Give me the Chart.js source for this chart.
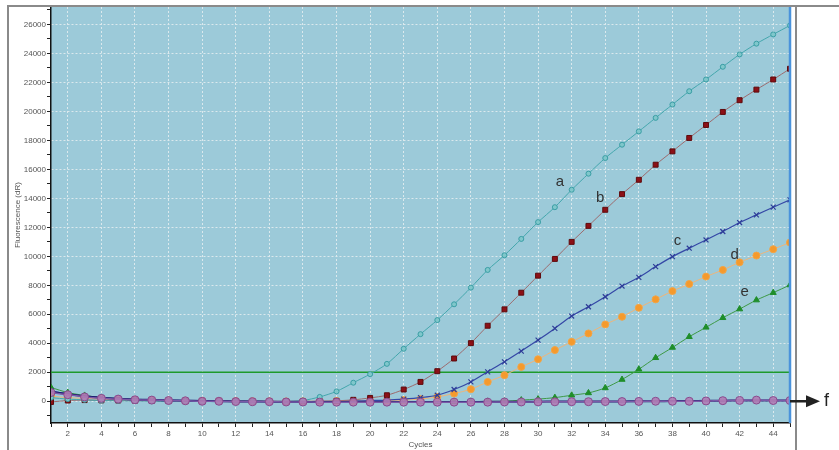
<!DOCTYPE html>
<html>
<head>
<meta charset="utf-8">
<script src="https://cdn.jsdelivr.net/npm/chart.js@4.4.1/dist/chart.umd.min.js"></script>
<style>
html, body { margin: 0; padding: 0; background: #fff; }
#wrap { position: relative; width: 839px; height: 450px; }
</style>
</head>
<body>
<div id="wrap"><canvas id="graficoPCR" width="839" height="450"></canvas></div>
<script>
// ciclos (eje x)
const cycles = [1,2,3,4,5,6,7,8,9,10,11,12,13,14,15,16,17,18,19,20,21,22,23,24,25,26,27,28,29,30,31,32,33,34,35,36,37,38,39,40,41,42,43,44,45];
const xTickLabels = [2,4,6,8,10,12,14,16,18,20,22,24,26,28,30,32,34,36,38,40,42,44];
const yTickLabels = [0,2000,4000,6000,8000,10000,12000,14000,16000,18000,20000,22000,24000,26000];

// fluorescencia por curva
const serieA = [250,150,100,50,30,20,10,0,0,-20,-20,-30,-30,-30,-20,50,300,680,1280,1870,2580,3620,4630,5600,6690,7840,9060,10075,11200,12360,13390,14590,15700,16780,17700,18620,19550,20470,21390,22200,23075,23930,24670,25310,25930];
const serieB = [-50,50,80,60,50,40,30,20,10,0,0,-10,-10,-20,-20,-10,0,30,100,230,415,810,1335,2075,2950,4010,5210,6340,7490,8665,9820,10995,12100,13210,14290,15280,16320,17240,18165,19060,19960,20770,21500,22200,22940];
const serieC = [700,500,350,250,180,130,100,80,60,40,20,10,0,-10,-20,-20,-10,0,20,50,80,150,250,415,810,1335,2030,2720,3460,4220,5025,5880,6520,7210,7950,8550,9290,9980,10560,11130,11710,12330,12860,13390,13900];
const serieD = [350,250,200,150,120,100,80,60,40,30,20,10,0,0,-10,0,0,10,20,30,50,80,150,300,530,830,1335,1800,2370,2900,3530,4100,4680,5300,5830,6450,7030,7600,8090,8600,9060,9590,10050,10490,10950];
const serieE = [950,600,400,250,180,120,80,50,30,20,0,-10,-20,-20,-30,-30,-40,-40,-40,-40,-40,-40,-40,-30,-30,-20,-10,0,80,150,250,415,575,920,1500,2210,3000,3710,4450,5100,5760,6360,6980,7490,8020];
const serieF = [600,450,300,200,150,100,80,50,30,0,0,-20,-30,-30,-50,-50,-60,-60,-60,-60,-60,-60,-60,-60,-60,-60,-60,-50,-50,-40,-40,-30,-30,-20,-20,-10,0,0,0,20,40,60,80,50,50];
const serieG = [650,500,350,250,180,120,90,60,40,20,0,-10,-20,-30,-40,-40,-50,-50,-50,-50,-50,-50,-50,-50,-50,-50,-40,-40,-30,-30,-20,-20,-20,-10,-10,0,0,10,20,30,40,50,60,60,60];
const umbral = [2000, 2000];
const umbralX = [1, 45];

// etiquetas de curvas
const etiquetas = ['a','b','c','d','e'];
const etiquetasX = [31.3, 33.7, 38.3, 41.7, 42.3];
const etiquetasY = [15140, 14040, 11060, 10100, 7540];

const pares = (ys) => ys.map((v, i) => ({x: cycles[i], y: v}));

const fondoPlugin = {
    id: 'fondo',
    beforeDraw(chart) {
        const {ctx, chartArea: a} = chart;
        ctx.save();
        ctx.fillStyle = '#fff';
        ctx.fillRect(0, 0, chart.width, chart.height);
        ctx.fillStyle = '#9ccad9';
        ctx.fillRect(a.left, a.top, a.right - a.left, a.bottom - a.top);
        ctx.restore();
    },
    afterDraw(chart) {
        const {ctx, chartArea: a, scales} = chart;
        ctx.save();
        // borde azul derecho
        ctx.strokeStyle = '#4a93dc';
        ctx.lineWidth = 2.5;
        ctx.beginPath();
        ctx.moveTo(a.right, a.top);
        ctx.lineTo(a.right, a.bottom);
        ctx.stroke();
        // marco gris
        ctx.strokeStyle = '#8a8a8a';
        ctx.lineWidth = 2;
        ctx.beginPath();
        ctx.moveTo(8, 450);
        ctx.lineTo(8, 6);
        ctx.lineTo(839, 6);
        ctx.moveTo(796, 6);
        ctx.lineTo(796, 450);
        ctx.stroke();
        // titulo eje y
        ctx.fillStyle = '#555';
        ctx.font = '8px "Liberation Sans", Arial';
        ctx.textAlign = 'center';
        ctx.textBaseline = 'middle';
        ctx.translate(18, (a.top + a.bottom) / 2);
        ctx.rotate(-Math.PI / 2);
        ctx.fillText('Fluorescence (dR)', 0, 0);
        ctx.setTransform(1, 0, 0, 1, 0, 0);
        // etiquetas a-e
        ctx.fillStyle = '#333';
        ctx.font = '15px "Liberation Sans", Arial';
        etiquetas.forEach((t, i) => {
            ctx.fillText(t, scales.x.getPixelForValue(etiquetasX[i]), scales.y.getPixelForValue(etiquetasY[i]));
        });
        // flecha f
        const y0 = scales.y.getPixelForValue(0);
        ctx.strokeStyle = '#222';
        ctx.fillStyle = '#222';
        ctx.lineWidth = 2.5;
        ctx.beginPath();
        ctx.moveTo(a.right, y0);
        ctx.lineTo(808, y0);
        ctx.stroke();
        ctx.beginPath();
        ctx.moveTo(820, y0);
        ctx.lineTo(806, y0 - 6);
        ctx.lineTo(806, y0 + 6);
        ctx.closePath();
        ctx.fill();
        ctx.font = '18px "Liberation Sans", Arial';
        ctx.textAlign = 'left';
        ctx.fillText('f', 824, y0);
        ctx.restore();
    }
};

const colorGrilla = 'rgba(222,234,238,0.95)';

const grafico = new Chart(document.getElementById('graficoPCR').getContext('2d'), {
    type: 'line',
    data: {
        datasets: [
            {label: 'f', data: pares(serieF), borderColor: '#7a5aa8', borderWidth: 1.5, pointStyle: 'circle', pointRadius: 4, pointBackgroundColor: 'rgba(176,124,180,0.9)', pointBorderColor: '#8a4a8e', pointBorderWidth: 1},
            {label: 'g', data: pares(serieG), borderColor: '#1c1c6e', borderWidth: 2, pointRadius: 0},
            {label: 'a', data: pares(serieA), borderColor: '#44a7ad', borderWidth: 1, pointStyle: 'circle', pointRadius: 2.5, pointBackgroundColor: '#7fc7cb', pointBorderColor: '#3a9ea5', pointBorderWidth: 1},
            {label: 'b', data: pares(serieB), borderColor: '#9c6b6e', borderWidth: 1, pointStyle: 'rect', pointRadius: 3.5, pointBackgroundColor: '#8c1016', pointBorderColor: '#5e0a0c', pointBorderWidth: 1},
            {label: 'c', data: pares(serieC), borderColor: '#3447a6', borderWidth: 1.2, pointStyle: 'crossRot', pointRadius: 3.5, pointBorderColor: '#2e3c98', pointBorderWidth: 1.2},
            {label: 'd', data: pares(serieD), borderColor: '#eeb57a', borderWidth: 1, pointStyle: 'circle', pointRadius: 3.5, pointBackgroundColor: '#f59a2c', pointBorderColor: '#f3a445', pointBorderWidth: 1},
            {label: 'e', data: pares(serieE), borderColor: '#3e9a46', borderWidth: 1, pointStyle: 'triangle', pointRadius: 3.5, pointBackgroundColor: '#1f8e2a', pointBorderColor: '#1f8e2a', pointBorderWidth: 1},
            {label: 'umbral', data: umbral.map((v, i) => ({x: umbralX[i], y: v})), borderColor: '#1e9a2c', borderWidth: 1.5, pointRadius: 0}
        ]
    },
    options: {
        responsive: false,
        animation: false,
        devicePixelRatio: 1,
        layout: {padding: {left: 0, right: 49, top: 7, bottom: 0}},
        plugins: {legend: {display: false}, tooltip: {enabled: false}},
        elements: {line: {tension: 0.25}},
        scales: {
            x: {
                type: 'linear',
                min: 1,
                max: 45,
                afterBuildTicks: (s) => { s.ticks = cycles.map(v => ({value: v})); },
                afterFit: (s) => { s.height = 27; },
                ticks: {
                    autoSkip: false,
                    maxRotation: 0,
                    padding: 2,
                    color: '#555',
                    font: {size: 8, family: '"Liberation Sans", Arial'},
                    callback: (v) => xTickLabels.includes(v) ? v : ''
                },
                grid: {
                    color: (c) => (c.tick && xTickLabels.includes(c.tick.value)) ? colorGrilla : 'rgba(0,0,0,0)',
                    lineWidth: 1,
                    tickColor: '#222',
                    tickLength: 4
                },
                border: {display: true, color: '#111', width: 1.5, dash: [2, 2]},
                title: {display: true, text: 'Cycles', color: '#555', font: {size: 8, family: '"Liberation Sans", Arial'}, padding: {top: 0, bottom: 0}}
            },
            y: {
                min: -1500,
                max: 27200,
                afterBuildTicks: (s) => {
                    const t = [];
                    for (let v = -1000; v <= 27000; v += 1000) t.push({value: v});
                    s.ticks = t;
                },
                afterFit: (s) => { s.width = 51; },
                ticks: {
                    autoSkip: false,
                    padding: 1,
                    color: '#555',
                    font: {size: 8, family: '"Liberation Sans", Arial'},
                    callback: (v) => yTickLabels.includes(v) ? v : ''
                },
                grid: {
                    color: (c) => (c.tick && yTickLabels.includes(c.tick.value)) ? colorGrilla : 'rgba(0,0,0,0)',
                    lineWidth: 1,
                    tickColor: '#222',
                    tickLength: 4
                },
                border: {display: true, color: '#111', width: 1.5, dash: [2, 2]}
            }
        }
    },
    plugins: [fondoPlugin]
});
</script>
</body>
</html>
